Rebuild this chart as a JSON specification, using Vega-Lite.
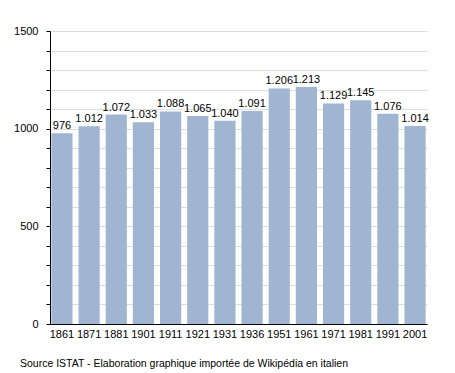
{
  "$schema": "https://vega.github.io/schema/vega-lite/v6.json",
  "width": 377,
  "height": 293,
  "autosize": {"type": "none"},
  "padding": {"left": 50, "top": 31, "right": 28, "bottom": 49},
  "background": "white",
  "config": {
    "font": "Liberation Sans",
    "view": {"stroke": null}
  },
  "title": {
    "text": "Source ISTAT - Elaboration graphique importée de Wikipédia en italien",
    "orient": "bottom",
    "anchor": "start",
    "frame": "group",
    "dx": -30,
    "offset": 20,
    "fontSize": 10.5,
    "fontWeight": "normal",
    "color": "#000000",
    "font": "Liberation Sans"
  },
  "data": {
    "values": [
      {"year": "1861", "pop": 976, "label": "976"},
      {"year": "1871", "pop": 1012, "label": "1.012"},
      {"year": "1881", "pop": 1072, "label": "1.072"},
      {"year": "1901", "pop": 1033, "label": "1.033"},
      {"year": "1911", "pop": 1088, "label": "1.088"},
      {"year": "1921", "pop": 1065, "label": "1.065"},
      {"year": "1931", "pop": 1040, "label": "1.040"},
      {"year": "1936", "pop": 1091, "label": "1.091"},
      {"year": "1951", "pop": 1206, "label": "1.206"},
      {"year": "1961", "pop": 1213, "label": "1.213"},
      {"year": "1971", "pop": 1129, "label": "1.129"},
      {"year": "1981", "pop": 1145, "label": "1.145"},
      {"year": "1991", "pop": 1076, "label": "1.076"},
      {"year": "2001", "pop": 1014, "label": "1.014"}
    ]
  },
  "encoding": {
    "x": {
      "field": "year",
      "type": "ordinal",
      "sort": null,
      "scale": {"paddingInner": 0.22, "paddingOuter": 0.05},
      "axis": {
        "title": null,
        "labelAngle": 0,
        "ticks": false,
        "domainColor": "#000000",
        "domainWidth": 1,
        "labelFontSize": 11,
        "labelColor": "#000000",
        "labelPadding": 4,
        "grid": false
      }
    },
    "y": {
      "field": "pop",
      "type": "quantitative",
      "scale": {"domain": [0, 1500], "nice": false},
      "axis": {
        "title": null,
        "values": [0, 100, 200, 300, 400, 500, 600, 700, 800, 900, 1000, 1100, 1200, 1300, 1400, 1500],
        "labelExpr": "datum.value % 500 == 0 ? datum.value : ''",
        "grid": true,
        "gridColor": "#dddddd",
        "gridWidth": 1,
        "domainColor": "#000000",
        "tickColor": "#000000",
        "tickSize": 4,
        "labelFontSize": 11,
        "labelColor": "#000000",
        "labelPadding": 8
      }
    }
  },
  "layer": [
    {
      "mark": {"type": "bar", "color": "#9fb5d1"}
    },
    {
      "mark": {"type": "text", "baseline": "bottom", "dy": -2, "fontSize": 11, "color": "#000000"},
      "encoding": {"text": {"field": "label"}}
    }
  ]
}
